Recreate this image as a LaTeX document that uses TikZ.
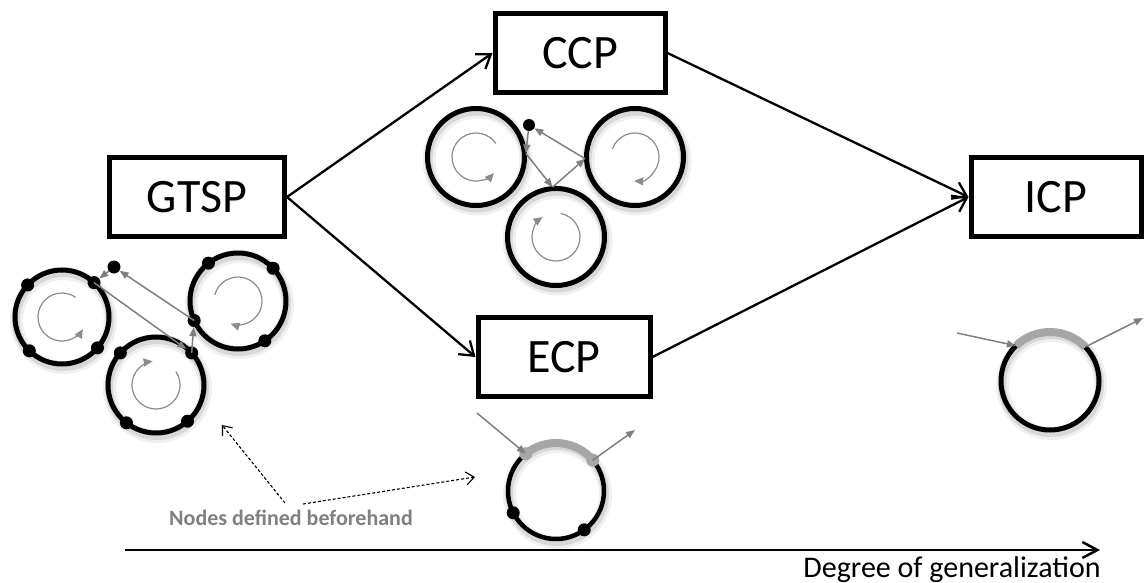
\documentclass[tikz,border=0pt]{standalone}
\usepackage{fontspec}
\setmainfont{Carlito}
\usetikzlibrary{arrows.meta,calc}
\definecolor{linkgray}{HTML}{7F7F7F}
\definecolor{innergray}{HTML}{8C8C8C}
\definecolor{arcgray}{HTML}{A6A6A6}
\definecolor{notegray}{HTML}{808080}
\begin{document}
\begin{tikzpicture}[x=1pt,y=-1pt,
  box/.style={draw,line width=5pt,rectangle,minimum height=79pt,inner sep=0pt,
    font=\fontsize{48}{56}\selectfont},
  ring/.style={circle,draw,line width=5pt,minimum size=#1,inner sep=0pt,
    preaction={draw=black,opacity=0.06,line width=13pt,transform canvas={xshift=1.5pt,yshift=-3.5pt}},
    preaction={draw=black,opacity=0.10,line width=8pt,transform canvas={xshift=1pt,yshift=-3pt}}},
  ring/.default=96pt,
  dot/.style={circle,fill=black,inner sep=0pt,minimum size=13pt},
  conn/.style={line width=2.3pt,-{Straight Barb[length=13pt,width=18pt]}},
  link/.style={draw=linkgray,line width=1.5pt,-{Triangle[length=9pt,width=7pt]},fill=linkgray},
  inner/.style={draw=innergray,line width=1.2pt,-{Triangle[length=9pt,width=8pt]}},
  garc/.style={draw=arcgray,line width=8pt},
  dasharrow/.style={line width=1.1pt,dash pattern=on 3pt off 2pt,-{Straight Barb[length=8pt,width=13pt,line width=1.1pt]}},
  axis/.style={line width=2.5pt,-{Straight Barb[length=15pt,width=16pt]}}
]
\path[use as bounding box] (0,0) rectangle (1145,583);

% boxes
\node[box,minimum width=175pt] (gtsp) at (197,197) {GTSP};
\node[box,minimum width=170pt] (ccp) at (580,53) {CCP};
\node[box,minimum width=172pt] (ecp) at (564,357) {ECP};
\node[box,minimum width=170pt] (icp) at (1056,197) {ICP};

\draw[conn] (gtsp.east) -- (ccp.west);
\draw[conn] (gtsp.east) -- (ecp.west);
\draw[conn] (ccp.east) -- (icp.west);
\draw[conn] (ecp.east) -- (icp.west);

% ---- GTSP clusters
\node[ring=94pt] (gA) at (62,317) {};
\node[ring=96pt] (gB) at (238,301) {};
\node[ring=96pt] (gC) at (156,385) {};
\path (gA.center) ++(223:47) node[dot] (a1) {};
\path (gA.center) ++(313:47) node[dot] (a2) {};
\path (gA.center) ++(134:47) node[dot] (a3) {};
\path (gA.center) ++(41:47) node[dot] (a4) {};
\path (gB.center) ++(232:48) node[dot] (b1) {};
\path (gB.center) ++(317:48) node[dot] (b2) {};
\path (gB.center) ++(156:48) node[dot] (b3) {};
\path (gB.center) ++(56:48) node[dot] (b4) {};
\path (gC.center) ++(222:48) node[dot] (c1) {};
\path (gC.center) ++(318:48) node[dot] (c2) {};
\path (gC.center) ++(128:48) node[dot] (c3) {};
\path (gC.center) ++(49:48) node[dot] (c4) {};
\node[dot,minimum size=13pt] (gdot) at (114,267) {};

\draw[inner] (gA.center) ++(305:24) arc[start angle=305,end angle=30,radius=24];
\draw[inner] (gB.center) ++(195:24) arc[start angle=195,end angle=468,radius=24];
\draw[inner] (gC.center) ++(-34:24) arc[start angle=-34,end angle=262,radius=24];

\draw[link] (gdot) -- (a2);
\draw[link] (a2.center) -- (c2);
\draw[link] (c2.center) -- (b3);
\draw[link] (b3.center) -- (gdot);

% ---- CCP cluster
\node[ring=97pt] (cL) at (476,157) {};
\node[ring=97pt] (cR) at (635,157) {};
\node[ring=97pt] (cB) at (556,237) {};
\node[dot,minimum size=12pt] (cdot) at (529,125) {};
\path (cL.center) ++(356:50) coordinate (cLp);
\path (cB.center) ++(266:50) coordinate (cBp);
\path (cR.center) ++(178:50) coordinate (cRp);

\draw[inner] (cL.center) ++(326:24) arc[start angle=326,end angle=42,radius=24];
\draw[inner] (cR.center) ++(200:24) arc[start angle=200,end angle=452,radius=24];
\draw[inner] (cB.center) ++(-79:24) arc[start angle=-79,end angle=236,radius=24];

\draw[link] (cdot) -- (cLp);
\draw[link] (cLp) -- (cBp);
\draw[link] (cBp) -- (cRp);
\draw[link] (cRp) -- (cdot);

% ---- ECP circle
\node[ring=96pt,line width=4.5pt] (eC) at (556,491) {};
\path (eC.center) ++(231:48) coordinate (eIn);
\path (eC.center) ++(320:48) coordinate (eOut);
\draw[garc] (eIn) arc[start angle=231,end angle=320,radius=48];
\fill[arcgray] (eIn) circle[radius=6.5pt];
\fill[arcgray] (eOut) circle[radius=6.5pt];
\path (eC.center) ++(153:48) node[dot] (e1) {};
\path (eC.center) ++(54:48) node[dot] (e2) {};
\coordinate (eSrc) at (477,413);
\coordinate (eDst) at (635,430);
\draw[link] (eSrc) -- (eIn);
\draw[link] (eOut) -- (eDst);

% ---- ICP circle
\node[ring=98pt] (iC) at (1050,381) {};
\path (iC.center) ++(226:49) coordinate (iIn);
\path (iC.center) ++(316:49) coordinate (iOut);
\draw[garc] (iIn) arc[start angle=226,end angle=316,radius=49];
\coordinate (iSrc) at (957,333);
\coordinate (iDst) at (1143,318);
\draw[link] (iSrc) -- (iIn);
\draw[link] (iOut) -- (iDst);

% ---- note
\node[font=\fontsize{22}{26}\selectfont\bfseries,text=notegray,anchor=base] (note) at (291,525) {Nodes defined beforehand};
\coordinate (n1) at (285,503);
\coordinate (n2) at (303,504);
\coordinate (t1) at (222,425);
\coordinate (t2) at (475,477);
\draw[dasharrow] (n1) -- (t1);
\draw[dasharrow] (n2) -- (t2);

% ---- axis
\coordinate (ax0) at (125,550);
\coordinate (ax1) at (1100,550);
\draw[axis] (ax0) -- (ax1);
\node[font=\fontsize{30}{36}\selectfont,anchor=base] (axl) at (952,577) {Degree of generalization};
\end{tikzpicture}
\end{document}
